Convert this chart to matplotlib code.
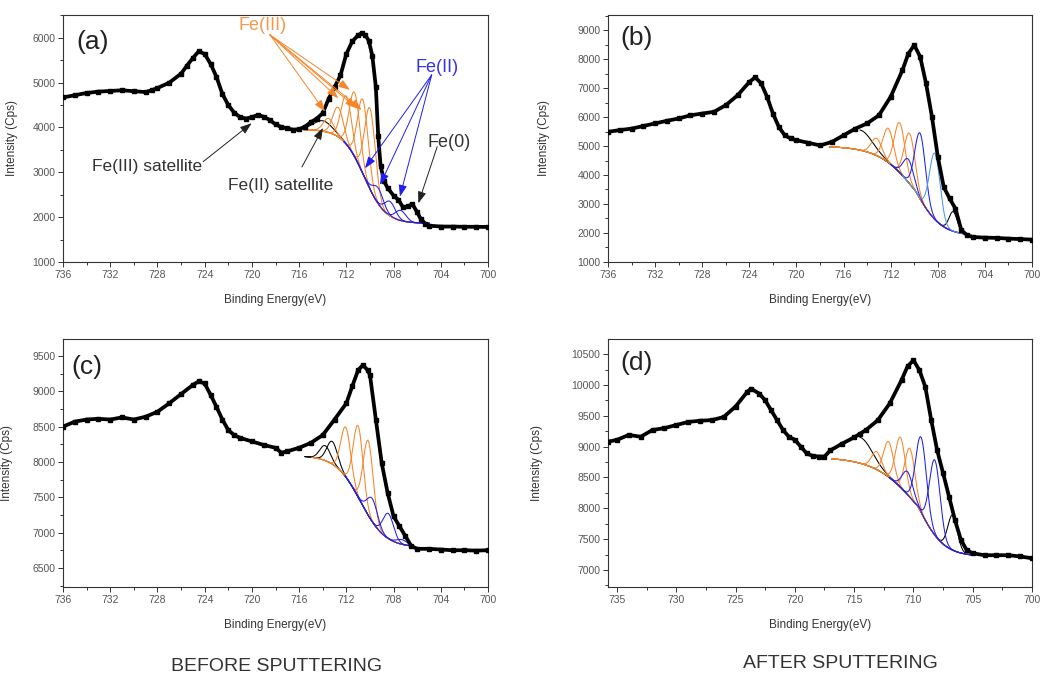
import numpy as np
import matplotlib
matplotlib.use("Agg")
import matplotlib.pyplot as plt
from matplotlib.ticker import MultipleLocator

plt.rcParams['font.family'] = ['Liberation Sans', 'DejaVu Sans']

A_BE = [736, 735, 734, 733, 732, 731, 730, 729, 728.5, 728, 727, 726, 725.5, 725,
        724.5, 724, 723.5, 723, 722.5, 722, 721.5, 721, 720.5, 720, 719.5, 719,
        718.5, 718, 717.5, 717, 716.5, 716, 715.5, 715, 714.5, 714, 713.5, 713,
        712.5, 712, 711.5, 711, 710.7, 710.4, 710.1, 709.8, 709.5, 709.3, 709.1,
        708.8, 708.5, 708, 707.6, 707.2, 706.8, 706.4, 706, 705.7, 705.3, 705,
        704, 703, 702, 701, 700]
A_INT = [4670, 4720, 4770, 4800, 4815, 4830, 4810, 4790, 4830, 4880, 5000, 5200, 5380, 5550,
         5700, 5640, 5420, 5130, 4750, 4500, 4330, 4230, 4200, 4230, 4280, 4240,
         4170, 4070, 4010, 3980, 3950, 3960, 4020, 4120, 4200, 4320, 4640, 4900,
         5160, 5640, 5920, 6060, 6105, 6060, 5940, 5600, 4900, 3800, 3150,
         2800, 2650, 2480, 2390, 2220, 2240, 2290, 2110, 1960, 1850, 1810,
         1790, 1790, 1785, 1785, 1780]

B_BE = [736, 735, 734, 733, 732, 731, 730, 729, 728, 727, 726, 725, 724, 723.5, 723,
        722.5, 722, 721.5, 721, 720.5, 720, 719, 718, 717, 716, 715, 714, 713,
        712, 711, 710.5, 710, 709.5, 709, 708.5, 708, 707.5, 707, 706.5, 706,
        705.5, 705, 704, 703, 702, 701, 700]
B_INT = [5490, 5550, 5600, 5690, 5780, 5870, 5950, 6060, 6120, 6180, 6410, 6750, 7210, 7370, 7160,
         6700, 6120, 5660, 5370, 5260, 5200, 5110, 5020, 5140, 5370, 5600, 5780, 6060,
         6700, 7620, 8190, 8480, 8080, 7160, 6010, 4630, 3590, 3190, 2840, 2090,
         1920, 1860, 1840, 1830, 1805, 1790, 1770]

C_BE = [736, 735, 734, 733, 732, 731, 730, 729, 728, 727, 726, 725, 724.5, 724, 723.5,
        723, 722.5, 722, 721.5, 721, 720, 719, 718, 717.5, 717, 716, 715, 714,
        713, 712, 711.5, 711, 710.6, 710.2, 710, 709.5, 709, 708.5, 708, 707.5,
        707, 706.5, 706, 705, 704, 703, 702, 701, 700]
C_INT = [8500, 8570, 8600, 8610, 8600, 8630, 8600, 8640, 8710, 8830, 8960, 9090, 9140, 9110, 8950,
         8780, 8600, 8450, 8380, 8340, 8290, 8240, 8200, 8130, 8150, 8200, 8270, 8380,
         8600, 8830, 9070, 9300, 9370, 9300, 9230, 8600, 7980, 7560, 7230, 7090,
         6950, 6810, 6770, 6770, 6760, 6750, 6750, 6745, 6750]

D_BE = [735.75, 735, 734, 733, 732, 731, 730, 729, 728, 727, 726, 725, 724, 723.7, 723,
        722.5, 722, 721.5, 721, 720.5, 720, 719.5, 719, 718.5, 718, 717.5, 717,
        716, 715, 714.5, 714, 713, 712, 711, 710.5, 710, 709.5, 709, 708.5, 708,
        707.5, 707, 706.5, 706, 705.5, 705, 704, 703, 702, 701, 700]
D_INT = [9080, 9110, 9190, 9160, 9270, 9300, 9350, 9400, 9420, 9430, 9480, 9650, 9890, 9940, 9860,
         9750, 9590, 9430, 9270, 9160, 9110, 9000, 8890, 8850, 8840, 8840, 8940,
         9050, 9150, 9210, 9270, 9430, 9700, 10080, 10300, 10400, 10240, 9970, 9430, 8940,
         8570, 8190, 7810, 7490, 7320, 7270, 7240, 7240, 7240, 7220, 7190]

# ---- fitted background (high level, low level, midpoint eV, width above, width below) ----
A_BG = [3960, 1860, 710.5, 0.9, 0.9]
B_BG = [5000, 1900, 709.9, 1.55, 1.1]
C_BG = [8090, 6790, 710.8, 1.05, 1.05]
D_BG = [8830, 7220, 709.6, 1.8, 1.08]
FIT_RANGE = {"a": [715.6, 705.0], "b": [717.2, 705.5], "c": [715.5, 706.5], "d": [716.9, 705.2]}
ORANGE_START = {"a": 715.6, "b": 717.2, "c": 714.9, "d": 716.9}

# ---- fitted components: centre (eV), peak top (cps) ----
A_FE3_C = [713.5, 712.7, 712.0, 711.3, 710.6, 710.0]
A_FE3_T = [4200, 4450, 4700, 4780, 4620, 4430]
A_FE2_C = [709.3, 708.3, 707.4]
A_FE2_T = [2650, 2350, 2150]
A_SAT_C = [714.0]
A_SAT_T = [4150]

B_FE3_C = [713.2, 712.2, 711.24, 710.4]
B_FE3_T = [5266, 5610, 5803, 5437]
B_FE2_C = [710.5, 709.5]
B_FE2_T = [4541, 5437]
B_FE2B_C = [708.26]
B_FE2B_T = [4749]
B_SAT_C = [714.6]
B_SAT_T = [5552]
B_FE0_C = [706.7]
B_FE0_T = [2734]

C_FE3_C = [712.05, 711.0, 710.15]
C_FE3_T = [8490, 8510, 8300]
C_FE2_C = [709.8, 708.45, 707.3]
C_FE2_T = [7480, 7270, 6900]
C_SAT_C = [713.8, 713.2]
C_SAT_T = [8230, 8290]

D_FE3_C = [713.1, 712.1, 711.1, 710.3]
D_FE3_T = [8917, 9080, 9150, 8970]
D_FE2_C = [710.5, 709.35, 708.2]
D_FE2_T = [8593, 9150, 8782]
D_SAT_C = [714.5]
D_SAT_T = [9150]
D_FE0_C = [706.7]
D_FE0_T = [7890]

# peak widths (sigma, eV)
SIGMA = 0.45
SAT_SIGMA = {"a": 0.8, "b": 1.0, "c": 0.45, "d": 1.0}

ORANGE = "#f5862a"
BLUE = "#1f1fef"
LIGHT_BLUE = "#4a98f0"
GREY = "#333333"


def background(x, bg):
    hi, lo, x0, w_hi, w_lo = bg
    w = np.where(x > x0, w_hi, w_lo)
    return lo + (hi - lo) / (1 + np.exp(-(x - x0) / w))


def draw_peaks(ax, bg, start, end, centres, tops, sigma, color, half=False):
    for c, top in zip(centres, tops):
        s = c if half else start
        x = np.linspace(s, end, 300)
        amp = top - background(np.array([c]), bg)[0]
        y = background(x, bg) + amp * np.exp(-(x - c) ** 2 / (2 * sigma ** 2))
        ax.plot(x, y, color=color, lw=0.75, zorder=3)


def draw_spectrum(ax, be, intensity):
    ax.plot(be, intensity, color="black", lw=2.7, marker="s", ms=2.2,
            solid_joinstyle="round", zorder=5)


def style_axes(ax, xlim, ylim, xmaj, xmin, ymaj, ymin, label, lx, ly):
    ax.set_xlim(*xlim)
    ax.set_ylim(*ylim)
    ax.xaxis.set_major_locator(MultipleLocator(xmaj))
    ax.xaxis.set_minor_locator(MultipleLocator(xmin))
    ax.yaxis.set_major_locator(MultipleLocator(ymaj))
    ax.yaxis.set_minor_locator(MultipleLocator(ymin))
    ax.tick_params(which="both", direction="out", colors=GREY, labelcolor="#555555",
                   labelsize=7.5, width=0.7, pad=2)
    ax.tick_params(which="major", length=3.5)
    ax.tick_params(which="minor", length=2)
    for sp in ax.spines.values():
        sp.set_color(GREY)
        sp.set_linewidth(0.8)
    ax.set_xlabel("Binding Energy(eV)", fontsize=8.5, color=GREY)
    ax.set_ylabel("Intensity (Cps)", fontsize=8.5, color=GREY)
    ax.xaxis.set_label_coords(0.5, -0.13)
    ax.text(lx, ly, label, transform=ax.transAxes, fontsize=19, color="#222222",
            ha="center", va="center")


fig = plt.figure(figsize=(10.41, 6.75), dpi=100)
ax_a = fig.add_axes([0.0605, 0.6119, 0.4083, 0.3659])
ax_b = fig.add_axes([0.5841, 0.6119, 0.4073, 0.3659])
ax_c = fig.add_axes([0.0605, 0.1304, 0.4083, 0.3674])
ax_d = fig.add_axes([0.5841, 0.1304, 0.4073, 0.3674])

# ---- (a) ----
ax = ax_a
st, en = FIT_RANGE["a"]
xb = np.linspace(st, en, 300)
ax.plot(xb, background(xb, A_BG), color="black", lw=0.75, zorder=2)
draw_peaks(ax, A_BG, st, en, A_SAT_C, A_SAT_T, SAT_SIGMA["a"], "black")
draw_peaks(ax, A_BG, ORANGE_START["a"], en, A_FE3_C, A_FE3_T, SIGMA, ORANGE)
draw_peaks(ax, A_BG, 712.2, en, A_FE2_C, A_FE2_T, SIGMA, BLUE)
draw_spectrum(ax, A_BE, A_INT)
style_axes(ax, (736, 700), (1000, 6510), 4, 2, 1000, 500, "(a)", 0.07, 0.89)
ax.yaxis.set_label_coords(-0.105, 0.5)

arrow = dict(arrowstyle="-|>,head_length=0.7,head_width=0.25", lw=0.7, shrinkA=0, shrinkB=0)
fe3_heads = [(713.81, 4355), (712.68, 4654), (711.69, 4839), (711.12, 4431), (710.7, 4393)]
for hx, hy in fe3_heads:
    ax.annotate("", xy=(hx, hy), xytext=(718.47, 6067),
                arrowprops=dict(arrow, color=ORANGE), zorder=6)
ax.text(719.06, 6268, "Fe(III)", color="#f39a4c", fontsize=13, ha="center", va="center")
fe2_heads = [(710.42, 3091), (709.15, 2719), (707.46, 2458)]
for hx, hy in fe2_heads:
    ax.annotate("", xy=(hx, hy), xytext=(704.77, 5174),
                arrowprops=dict(arrow, color=BLUE), zorder=6)
ax.text(704.32, 5330, "Fe(II)", color="#3333ee", fontsize=13, ha="center", va="center")
ax.annotate("", xy=(705.9, 2310), xytext=(704.3, 3574),
            arrowprops=dict(arrow, color="#222222"), zorder=6)
ax.text(703.3, 3656, "Fe(0)", color=GREY, fontsize=13, ha="center", va="center")
ax.annotate("", xy=(720.02, 4096), xytext=(724.12, 3239),
            arrowprops=dict(arrow, color="#222222"), zorder=6)
ax.text(728.9, 3120, "Fe(III) satellite", color=GREY, fontsize=12.5, ha="center", va="center")
ax.annotate("", xy=(713.98, 3991), xytext=(715.76, 3120),
            arrowprops=dict(arrow, color="#222222"), zorder=6)
ax.text(717.58, 2700, "Fe(II) satellite", color=GREY, fontsize=12.5, ha="center", va="center")

# ---- (b) ----
ax = ax_b
st, en = FIT_RANGE["b"]
xb = np.linspace(st, en, 300)
ax.plot(xb, background(xb, B_BG), color="black", lw=0.75, zorder=2)
draw_peaks(ax, B_BG, st, en, B_SAT_C, B_SAT_T, SAT_SIGMA["b"], "black", half=True)
draw_peaks(ax, B_BG, st, en, B_FE0_C, B_FE0_T, 0.35, "black")
draw_peaks(ax, B_BG, ORANGE_START["b"], en, B_FE3_C, B_FE3_T, SIGMA, ORANGE)
draw_peaks(ax, B_BG, 712.0, en, B_FE2_C, B_FE2_T, SIGMA, BLUE)
draw_peaks(ax, B_BG, 711.0, en, B_FE2B_C, B_FE2B_T, SIGMA, LIGHT_BLUE)
draw_spectrum(ax, B_BE, B_INT)
style_axes(ax, (736, 700), (1000, 9520), 4, 2, 1000, 500, "(b)", 0.068, 0.905)
ax.yaxis.set_label_coords(-0.137, 0.5)

# ---- (c) ----
ax = ax_c
st, en = FIT_RANGE["c"]
xb = np.linspace(st, en, 300)
ax.plot(xb, background(xb, C_BG), color="black", lw=0.75, zorder=2)
draw_peaks(ax, C_BG, st, en, C_SAT_C, C_SAT_T, SAT_SIGMA["c"], "black")
draw_peaks(ax, C_BG, ORANGE_START["c"], en, C_FE3_C, C_FE3_T, 0.42, ORANGE)
draw_peaks(ax, C_BG, 712.1, en, C_FE2_C, C_FE2_T, SIGMA, BLUE)
draw_spectrum(ax, C_BE, C_INT)
style_axes(ax, (736, 700), (6230, 9740), 4, 2, 500, 250, "(c)", 0.056, 0.887)
ax.yaxis.set_label_coords(-0.118, 0.5)

# ---- (d) ----
ax = ax_d
st, en = FIT_RANGE["d"]
xb = np.linspace(st, en, 300)
ax.plot(xb, background(xb, D_BG), color="black", lw=0.75, zorder=2)
draw_peaks(ax, D_BG, st, en, D_SAT_C, D_SAT_T, SAT_SIGMA["d"], "black", half=True)
draw_peaks(ax, D_BG, st, en, D_FE0_C, D_FE0_T, 0.4, "black")
draw_peaks(ax, D_BG, ORANGE_START["d"], en, D_FE3_C, D_FE3_T, 0.42, ORANGE)
draw_peaks(ax, D_BG, 712.0, en, D_FE2_C, D_FE2_T, SIGMA, BLUE)
draw_spectrum(ax, D_BE, D_INT)
style_axes(ax, (735.75, 700), (6725, 10745), 5, 2.5, 500, 250, "(d)", 0.068, 0.903)
ax.yaxis.set_label_coords(-0.153, 0.5)

fig.text(0.266, 0.006, "BEFORE SPUTTERING", fontsize=14, color=GREY, ha="center", va="baseline")
fig.text(0.807, 0.0105, "AFTER SPUTTERING", fontsize=14, color=GREY, ha="center", va="baseline")

fig.savefig("out.png", dpi=100)
